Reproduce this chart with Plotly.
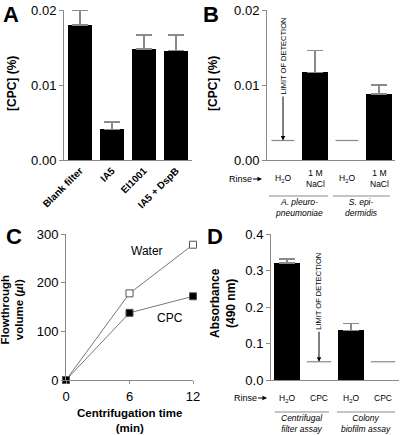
import plotly.graph_objects as go

# ---------------- data ----------------
a_cats = ["Blank filter", "IA5", "EI1001", "IA5 + DspB"]
a_vals = [0.018, 0.0041, 0.0148, 0.0146]
a_errs = [0.002, 0.001, 0.0019, 0.0021]

b_bar_idx = [1, 3]
b_vals = [0.0117, 0.0088]
b_errs = [0.0029, 0.0012]
b_lod_idx = [0, 2]
b_lod = 0.0026
b_labels = ["H<sub>2</sub>O", "1 M<br>NaCl", "H<sub>2</sub>O", "1 M<br>NaCl"]
b_groups = ["<i>A. pleuro-<br>pneumoniae</i>", "<i>S. epi-<br>dermidis</i>"]

c_time = [0, 6, 12]
c_water = [0, 178, 278]
c_cpc = [0, 138, 172]

d_bar_idx = [0, 2]
d_vals = [0.321, 0.136]
d_errs = [0.011, 0.019]
d_lod_idx = [1, 3]
d_lod = 0.05
d_labels = ["H<sub>2</sub>O", "CPC", "H<sub>2</sub>O", "CPC"]
d_groups = ["<i>Centrifugal<br>filter assay</i>", "<i>Colony<br>biofilm assay</i>"]

# ---------------- layout helpers ----------------
W, H = 400, 435
FONT = "Liberation Sans, Arial, sans-serif"
AX = "#8a8a8a"


def px(x):
    return x / W


def py(y):
    return 1 - y / H


fig = go.Figure()

err_style = dict(type="data", symmetric=False, color=AX, thickness=1.5, width=8)

# Panel A
fig.add_trace(go.Bar(x=list(range(len(a_cats))), y=a_vals, width=0.72,
                     marker=dict(color="black", line=dict(width=0)),
                     error_y=dict(array=a_errs, arrayminus=[0] * len(a_errs), **err_style),
                     xaxis="x", yaxis="y"))
# Panel B
fig.add_trace(go.Bar(x=b_bar_idx, y=b_vals, width=0.8,
                     marker=dict(color="black", line=dict(width=0)),
                     error_y=dict(array=b_errs, arrayminus=[0] * len(b_errs), **err_style),
                     xaxis="x2", yaxis="y2"))
for i in b_lod_idx:
    fig.add_trace(go.Scatter(x=[i - 0.36, i + 0.36], y=[b_lod, b_lod], mode="lines",
                             line=dict(color=AX, width=1.2), xaxis="x2", yaxis="y2"))
# Panel C
fig.add_trace(go.Scatter(x=c_time, y=c_water, mode="lines+markers",
                         line=dict(color="#777", width=1),
                         marker=dict(symbol="square", size=7, color="white",
                                     line=dict(color="#555", width=1)),
                         xaxis="x3", yaxis="y3", cliponaxis=False))
fig.add_trace(go.Scatter(x=c_time, y=c_cpc, mode="lines+markers",
                         line=dict(color="#777", width=1),
                         marker=dict(symbol="square", size=7, color="black",
                                     line=dict(color="#555", width=1)),
                         xaxis="x3", yaxis="y3", cliponaxis=False))
# Panel D
fig.add_trace(go.Bar(x=d_bar_idx, y=d_vals, width=0.8,
                     marker=dict(color="black", line=dict(width=0)),
                     error_y=dict(array=d_errs, arrayminus=[0] * len(d_errs), **err_style),
                     xaxis="x4", yaxis="y4"))
for i in d_lod_idx:
    fig.add_trace(go.Scatter(x=[i - 0.38, i + 0.38], y=[d_lod, d_lod], mode="lines",
                             line=dict(color=AX, width=1.2), xaxis="x4", yaxis="y4"))

tickfont = dict(family=FONT, size=13, color="black")
yax_common = dict(showline=True, linecolor=AX, linewidth=1, ticks="outside",
                  tickcolor=AX, ticklen=4, showgrid=False, zeroline=False,
                  tickfont=tickfont, automargin=False)
xax_bar = dict(showline=True, linecolor=AX, linewidth=1, showgrid=False,
               zeroline=False, range=[-0.5, 3.5], ticks="", automargin=False)

fig.update_layout(
    width=W, height=H, margin=dict(l=0, r=0, t=0, b=0, autoexpand=False),
    paper_bgcolor="white", plot_bgcolor="white", showlegend=False,
    bargap=0,
    xaxis=dict(domain=[px(64), px(192)], anchor="y", tickmode="array",
               tickvals=list(range(len(a_cats))),
               ticktext=["<b>" + c + "</b>" for c in a_cats], tickangle=-45,
               tickfont=dict(family=FONT, size=10, color="black"), **xax_bar),
    yaxis=dict(domain=[py(160), py(10)], anchor="x", range=[0, 0.02],
               tickvals=[0, 0.01, 0.02], ticktext=["0.00", "0.01", "0.02"], **yax_common),
    xaxis2=dict(domain=[px(267), px(395)], anchor="y2", showticklabels=False, **xax_bar),
    yaxis2=dict(domain=[py(160), py(10)], anchor="x2", range=[0, 0.02],
                tickvals=[0, 0.01, 0.02], ticktext=["0.00", "0.01", "0.02"], **yax_common),
    xaxis3=dict(domain=[px(66), px(193)], anchor="y3", range=[0, 12],
                tickvals=[0, 6, 12], showline=True, linecolor=AX, linewidth=1,
                ticks="outside", ticklen=3, tickcolor=AX, showgrid=False, zeroline=False,
                tickfont=tickfont, automargin=False, ticklabelstandoff=1),
    yaxis3=dict(domain=[py(380), py(234)], anchor="x3", range=[0, 300],
                tickvals=[0, 100, 200, 300], **yax_common),
    xaxis4=dict(domain=[px(271), px(399)], anchor="y4", showticklabels=False, **xax_bar),
    yaxis4=dict(domain=[py(380), py(234)], anchor="x4", range=[0, 0.4],
                tickvals=[0, 0.1, 0.2, 0.3, 0.4],
                ticktext=["0.0", "0.1", "0.2", "0.3", "0.4"], **yax_common),
)

ann = []
shapes = []


def text(x, y, t, size=12, bold=False, angle=0, xref="paper", xanchor="center",
         yanchor="middle"):
    if bold:
        t = "<b>" + t + "</b>"
    ann.append(dict(x=x, y=y, xref=xref, yref="paper", text=t, showarrow=False,
                    textangle=angle, xanchor=xanchor, yanchor=yanchor,
                    font=dict(family=FONT, size=size, color="black")))


def arrow_text(x, y, xref, yref, t, ax, ay, size, angle=0):
    ann.append(dict(x=x, y=y, xref=xref, yref=yref, text=t, showarrow=True,
                    ax=ax, ay=ay, textangle=angle, arrowhead=2, arrowsize=0.9,
                    arrowwidth=1, arrowcolor="black", standoff=0,
                    font=dict(family=FONT, size=size, color="black")))


# Panel letters
for letter, x, y in [("A", 1, 14), ("B", 201, 14), ("C", 4, 236), ("D", 205, 236)]:
    text(px(x), py(y), letter, size=22, bold=True, xanchor="left")

# Axis titles
text(px(12), py(84), "[CPC] (%)", size=12, bold=True, angle=-90)
text(px(213), py(84), "[CPC] (%)", size=12, bold=True, angle=-90)
text(px(11.5), py(310), "Flowthrough<br>volume (<i>µ</i>l)", size=11.5, bold=True, angle=-90)
text(px(223), py(303), "Absorbance<br>(490 nm)", size=12, bold=True, angle=-90)
text(px(129), py(420), "Centrifugation time<br>(min)", size=11.5, bold=True)

# Panel C labels
text(px(147), py(251), "Water", size=12)
text(px(170), py(318), "CPC", size=12)

# Panel B x labels
for i, lab in enumerate(b_labels):
    text(i, py(178), lab, size=8.5, xref="x2")
arrow_text(px(262), py(179), "paper", "paper", "Rinse", -22, 0, 9)
for (g, x0, x1) in zip(b_groups, [-0.44, 1.56], [1.41, 3.34]):
    shapes.append(dict(type="line", xref="x2", yref="paper", x0=x0, x1=x1,
                       y0=py(196), y1=py(196), line=dict(color=AX, width=1)))
    text((x0 + x1) / 2, py(207), g, size=8.5, xref="x2")

# Panel D x labels
for i, lab in enumerate(d_labels):
    text(i, py(398), lab, size=8.5, xref="x4")
arrow_text(px(267), py(398), "paper", "paper", "Rinse", -22, 0, 9)
for (g, x0, x1) in zip(d_groups, [-0.38, 1.56], [1.31, 3.38]):
    shapes.append(dict(type="line", xref="x4", yref="paper", x0=x0, x1=x1,
                       y0=py(412), y1=py(412), line=dict(color=AX, width=1)))
    text((x0 + x1) / 2, py(423), g, size=8.5, xref="x4")

# Limit of detection labels
arrow_text(b_lod_idx[0], b_lod, "x2", "y2", "LIMIT OF DETECTION", 0, -84, 7.5, angle=-90)
arrow_text(d_lod_idx[0], d_lod, "x4", "y4", "LIMIT OF DETECTION", 0, -70, 7.5, angle=-90)

fig.update_layout(annotations=ann, shapes=shapes)
fig.write_html("out.html", config={"displayModeBar": False},
               post_script="document.body.style.margin='0';"
                           "document.body.style.overflow='hidden';")
